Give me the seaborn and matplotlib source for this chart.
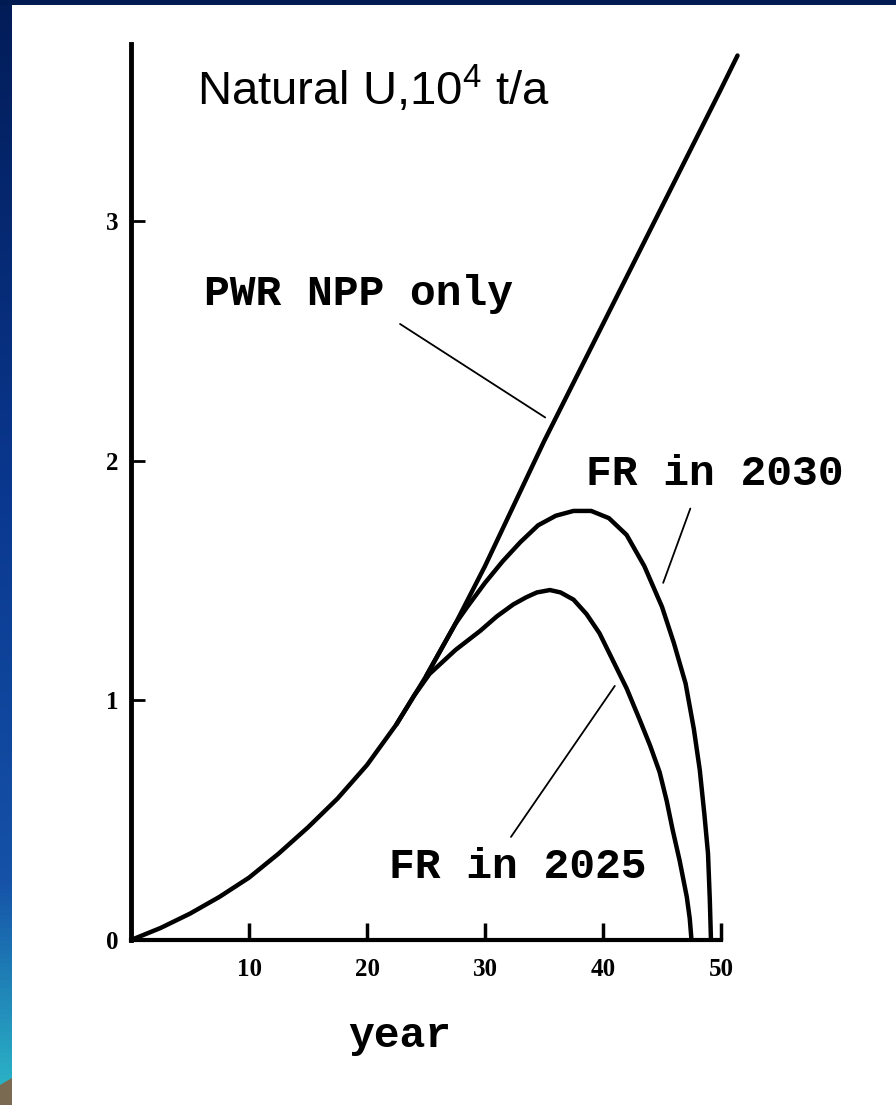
import numpy as np
import pandas as pd
import matplotlib
matplotlib.use("Agg")
import matplotlib.pyplot as plt
from matplotlib.colors import LinearSegmentedColormap
from matplotlib.font_manager import FontProperties
import seaborn as sns

# natural uranium demand, 10^4 t/a
pwr_year = [0, 2.5, 5, 7.5, 10, 12.5, 15, 17.5, 20, 22.5, 25, 27.5, 30, 32.5, 35, 40, 45, 50, 51.4]
pwr_u = [0, 0.05, 0.11, 0.18, 0.26, 0.36, 0.47, 0.59, 0.73, 0.90, 1.10, 1.32, 1.56, 1.82, 2.08, 2.57, 3.06, 3.55, 3.69]

fr2030_year = [25, 27.5, 28.5, 30, 31.5, 33, 34.5, 36, 37.5, 39, 40.5, 42, 43.5, 45, 46, 47, 47.7, 48.2, 48.6, 48.9, 49.05, 49.15]
fr2030_u = [1.10, 1.32, 1.39, 1.49, 1.58, 1.66, 1.73, 1.77, 1.79, 1.79, 1.76, 1.69, 1.56, 1.39, 1.24, 1.07, 0.88, 0.71, 0.52, 0.36, 0.17, 0.0]

fr2025_year = [22.5, 24, 25.3, 27.5, 29.6, 31, 32.4, 33.5, 34.4, 35.5, 36.4, 37.5, 38.6, 39.7, 40.8, 42, 43.1, 44, 44.8, 45.4, 45.9, 46.5, 47.1, 47.35, 47.5]
fr2025_u = [0.90, 1.02, 1.11, 1.21, 1.29, 1.35, 1.40, 1.43, 1.45, 1.46, 1.45, 1.42, 1.36, 1.28, 1.17, 1.05, 0.92, 0.81, 0.70, 0.58, 0.46, 0.33, 0.18, 0.09, 0.0]

x_ticks = [10, 20, 30, 40, 50]
y_ticks = [0, 1, 2, 3]

sns.set_style("white")
plt.rcParams["font.family"] = ["Liberation Sans", "DejaVu Sans"]
plt.rcParams["mathtext.fontset"] = "custom"
plt.rcParams["mathtext.rm"] = "Liberation Sans"
plt.rcParams["mathtext.it"] = "Liberation Sans"

W, H = 896, 1105
fig = plt.figure(figsize=(W / 100, H / 100), dpi=100)
fig.patch.set_facecolor("white")

# slide background: blue strips on the left and top
bg = fig.add_axes([0, 0, 1, 1], zorder=-5)
bg.set_xlim(0, W)
bg.set_ylim(H, 0)
bg.axis("off")
strip = LinearSegmentedColormap.from_list(
    "strip", [(0, "#021c58"), (0.45, "#0a3890"), (0.8, "#1552a8"), (0.985, "#2bb3c6"), (1.0, "#2bb3c6")])
grad = np.linspace(0, 1, 256).reshape(-1, 1)
bg.imshow(grad, cmap=strip, aspect="auto", extent=[0, 12, H, 0])
bg.add_patch(plt.Rectangle((0, 0), W, 5, color="#001a52", lw=0))
bg.add_patch(plt.Polygon([(0, 1085), (12, 1078), (12, H), (0, H)], color="#7a6a52", lw=0))

# chart axes
x0, y0 = 131, 940
sx, sy = 11.8, 239.7
xmax, ymax = 52.0, 3.74
ax = fig.add_axes([x0 / W, (H - y0) / H, xmax * sx / W, ymax * sy / H])
ax.set_facecolor("none")

for xs, ys in [(pwr_year, pwr_u), (fr2030_year, fr2030_u), (fr2025_year, fr2025_u)]:
    sns.lineplot(x=xs, y=ys, ax=ax, color="black", lw=3.2, sort=False, estimator=None)

ax.set_xlim(0, xmax)
ax.set_ylim(0, ymax)
for s in ["top", "right"]:
    ax.spines[s].set_visible(False)
ax.spines["left"].set_linewidth(3.5)
ax.spines["bottom"].set_linewidth(3)
ax.spines["bottom"].set_bounds(0, 50)
for s in ["left", "bottom"]:
    ax.spines[s].set_color("black")

ax.set_xticks(x_ticks)
ax.set_yticks(y_ticks)
ax.set_xticklabels([str(t) for t in x_ticks])
ax.set_yticklabels([str(t) for t in y_ticks])
tick_font = FontProperties(family="Liberation Serif", weight="bold", size=18)
for lab in ax.get_xticklabels() + ax.get_yticklabels():
    lab.set_fontproperties(tick_font)
ax.tick_params(axis="x", bottom=True, direction="in", length=12, width=2.5, pad=13, colors="black")
ax.tick_params(axis="y", left=True, direction="in", length=10, width=2, pad=9, colors="black")

mono = dict(family="Liberation Mono", weight="bold", size=31, color="black")
ax.set_xlabel("year", **mono)
ax.xaxis.set_label_coords((400 - x0) / (xmax * sx), -76 / (ymax * sy))

ax.text(5.6, 3.48, r"Natural U,10$^{4}$ t/a", fontsize=34, color="black",
        ha="left", va="baseline", family="Liberation Sans")
ax.text(6.2, 2.65, "PWR NPP only", ha="left", va="baseline", **mono)
ax.text(38.6, 1.90, "FR in 2030", ha="left", va="baseline", **mono)
ax.text(21.9, 0.26, "FR in 2025", ha="left", va="baseline", **mono)

lead = dict(arrowstyle="-", color="black", lw=1.3, shrinkA=0, shrinkB=0)
ax.annotate("", xy=(35.1, 2.18), xytext=(22.8, 2.57), arrowprops=lead)
ax.annotate("", xy=(45.1, 1.49), xytext=(47.4, 1.80), arrowprops=lead)
ax.annotate("", xy=(32.2, 0.43), xytext=(41.0, 1.06), arrowprops=lead)

fig.savefig("out.png", dpi=100, facecolor=fig.get_facecolor())
